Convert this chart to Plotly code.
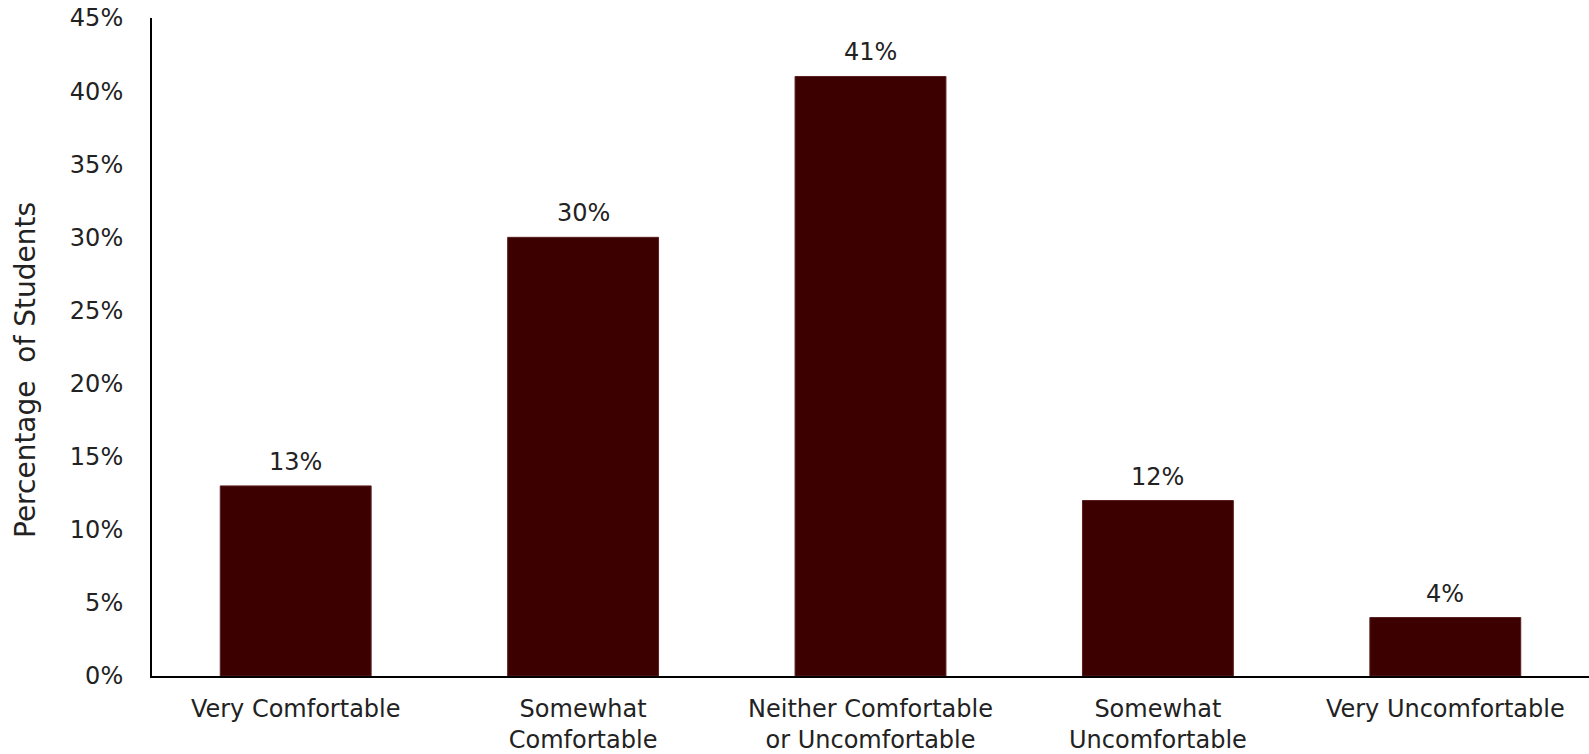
import plotly.graph_objects as go

categories = ["Very Comfortable", "Somewhat<br>Comfortable", "Neither Comfortable<br>or Uncomfortable",
              "Somewhat<br>Uncomfortable", "Very Uncomfortable"]
values = [0.13, 0.30, 0.41, 0.12, 0.04]
labels = ["13%", "30%", "41%", "12%", "4%"]
y_ticks = [0, 0.05, 0.10, 0.15, 0.20, 0.25, 0.30, 0.35, 0.40, 0.45]
y_tick_text = ["0%", "5%", "10%", "15%", "20%", "25%", "30%", "35%", "40%", "45%"]

FONT = "DejaVu Sans"
TXT = "#222222"
FS = 24
W, H = 1589, 754
L, R, T, B = 152, 0, 18, 78

fig = go.Figure(go.Bar(
    x=categories, y=values,
    marker=dict(color="#3D0000", line=dict(color="#5a2020", width=1)),
    width=0.525,
))
for c, v, lab in zip(categories, values, labels):
    fig.add_annotation(x=c, y=v, text=lab, showarrow=False, yanchor="middle", yshift=24,
                       font=dict(family=FONT, size=FS, color=TXT))

fig.update_layout(
    width=W, height=H, paper_bgcolor="white", plot_bgcolor="white",
    margin=dict(l=L, r=R, t=T, b=B, autoexpand=False),
    font=dict(family=FONT, size=FS, color=TXT),
    showlegend=False,
    xaxis=dict(showline=True, linecolor="black", linewidth=2, ticks="", tickfont=dict(size=FS),
               ticklabelstandoff=10),
    yaxis=dict(range=[0, 0.45], tickmode="array", tickvals=y_ticks, ticktext=y_tick_text,
               showgrid=False, zeroline=False, ticklabeloverflow="allow",
               showline=True, linecolor="black", linewidth=2, ticks="", ticklabelstandoff=22,
               tickfont=dict(size=FS)),
)
fig.add_annotation(text="Percentage  of Students", textangle=-90,
                   x=(25 - L) / (W - L - R), y=(H - B - 370) / (H - B - T),
                   xref="paper", yref="paper", xanchor="center", yanchor="middle", showarrow=False,
                   font=dict(family=FONT, size=28, color=TXT))
fig.write_html("out.html", config={"displayModeBar": False},
               post_script="document.body.style.margin='0';document.body.style.overflow='hidden';")
